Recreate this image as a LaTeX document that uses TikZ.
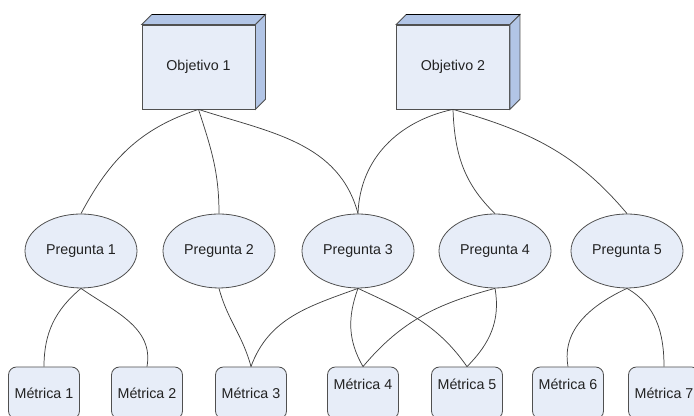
\documentclass[tikz,border=0pt]{standalone}
\usepackage{fontspec}
\setmainfont{Liberation Sans}
\usetikzlibrary{shapes.geometric}
\definecolor{carafrente}{HTML}{E7EDF8}
\definecolor{caralado}{HTML}{B2C5E6}
\definecolor{bordegris}{HTML}{505050}
\definecolor{textogris}{HTML}{222222}
\tikzset{
  texto/.style={text=textogris, font=\fontsize{10.7}{12}\selectfont},
  objetivo/.style={texto, draw=bordegris, fill=carafrente, line width=0.6pt, minimum width=84.75pt, minimum height=63pt},
  cara/.style={draw=bordegris, fill=caralado, line width=0.6pt},
  pregunta/.style={texto, ellipse, draw=bordegris, fill=carafrente, line width=0.6pt, inner sep=0pt, minimum width=84pt, minimum height=55.5pt},
  metrica/.style={texto, draw=bordegris, fill=carafrente, line width=0.6pt, rounded corners=6pt, minimum width=53.25pt, minimum height=39pt},
  alta/.style={text depth=13pt},
  enlace/.style={draw=black!75, line width=0.55pt}
}
\begin{document}
\begin{tikzpicture}[x=0.75pt, y=0.75pt]
		\useasboundingbox (0,0) rectangle (694,416);
		\node [objetivo] (o1) at (198.5, 349) {Objetivo 1};
		\node [objetivo] (o2) at (453, 349) {Objetivo 2};

		% caras del cubo
		\draw [cara] (o1.north west) -- ([shift={(10,10)}]o1.north west) -- ([shift={(10,10)}]o1.north east) -- (o1.north east) -- cycle;
		\draw [cara] (o1.north east) -- ([shift={(10,10)}]o1.north east) -- ([shift={(10,10)}]o1.south east) -- (o1.south east) -- cycle;
		\draw [line width=0.9pt] ([shift={(10,10)}]o1.north west) -- ([shift={(10,10)}]o1.north east);
		\draw [cara] (o2.north west) -- ([shift={(10,10)}]o2.north west) -- ([shift={(10,10)}]o2.north east) -- (o2.north east) -- cycle;
		\draw [cara] (o2.north east) -- ([shift={(10,10)}]o2.north east) -- ([shift={(10,10)}]o2.south east) -- (o2.south east) -- cycle;
		\draw [line width=0.9pt] ([shift={(10,10)}]o2.north west) -- ([shift={(10,10)}]o2.north east);

		\node [pregunta] (p1) at (81, 165) {Pregunta 1};
		\node [pregunta] (p2) at (219, 165) {Pregunta 2};
		\node [pregunta] (p3) at (358, 165) {Pregunta 3};
		\node [pregunta] (p4) at (495, 165) {Pregunta 4};
		\node [pregunta] (p5) at (627, 165) {Pregunta 5};

		\node [metrica] (m1) at (44, 23) {Métrica 1};
		\node [metrica] (m2) at (147, 23) {Métrica 2};
		\node [metrica] (m3) at (251, 23) {Métrica 3};
		\node [metrica, alta] (m4) at (363, 23) {Métrica 4};
		\node [metrica, alta] (m5) at (467, 23) {Métrica 5};
		\node [metrica, alta] (m6) at (568, 23) {Métrica 6};
		\node [metrica] (m7) at (664, 23) {Métrica 7};

		% objetivos a preguntas
		\draw [enlace, out=198, in=62] (o1.south) to (p1.north);
		\draw [enlace, out=-72, in=90] (o1.south) to (p2.north);
		\draw [enlace, out=-18, in=105] (o1.south) to (p3.north);
		\draw [enlace, out=192, in=88] (o2.south) to (p3.north);
		\draw [enlace, out=272, in=136] (o2.south) to (p4.north);
		\draw [enlace, out=-16, in=130] (o2.south) to (p5.north);

		% preguntas a metricas
		\draw [enlace, out=220, in=90] (p1.south) to (m1.north);
		\draw [enlace, out=-35, in=80] (p1.south) to (m2.north);
		\draw [enlace, out=-75, in=105] (p2.south) to (m3.north);
		\draw [enlace, out=200, in=70] (p3.south) to (m3.north);
		\draw [enlace, out=250, in=120] (p3.south) to (m4.north);
		\draw [enlace, out=-25, in=125] (p3.south) to (m5.north);
		\draw [enlace, out=195, in=50] (p4.south) to (m4.north);
		\draw [enlace, out=-80, in=45] (p4.south) to (m5.north);
		\draw [enlace, out=205, in=100] (p5.south) to (m6.north);
		\draw [enlace, out=-30, in=90] (p5.south) to (m7.north);
\end{tikzpicture}
\end{document}
